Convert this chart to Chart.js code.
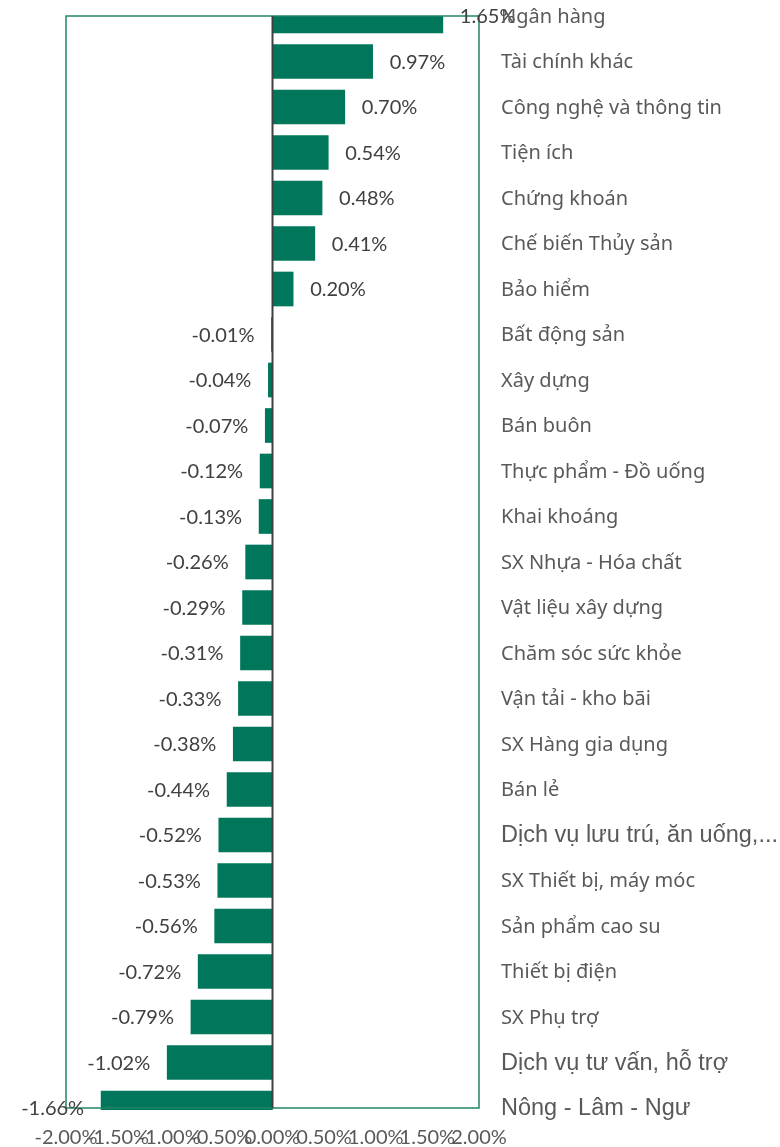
<!DOCTYPE html>
<html lang="vi">
  <head>
    <meta charset="utf-8" />
    <title>Biến động theo ngành</title>
    <style>
      * {
        margin: 0;
        padding: 0;
      }
      body {
        background: #ffffff;
      }
    </style>
  </head>
  <body>
    <canvas id="myChart" width="780" height="1147"></canvas>

    <script src="https://cdn.jsdelivr.net/npm/chart.js"></script>

    <script>
      // categories (top to bottom)
      const sectors = [
        "Ngân hàng",
        "Tài chính khác",
        "Công nghệ và thông tin",
        "Tiện ích",
        "Chứng khoán",
        "Chế biến Thủy sản",
        "Bảo hiểm",
        "Bất động sản",
        "Xây dựng",
        "Bán buôn",
        "Thực phẩm - Đồ uống",
        "Khai khoáng",
        "SX Nhựa - Hóa chất",
        "Vật liệu xây dựng",
        "Chăm sóc sức khỏe",
        "Vận tải - kho bãi",
        "SX Hàng gia dụng",
        "Bán lẻ",
        "Dịch vụ lưu trú, ăn uống,...",
        "SX Thiết bị, máy móc",
        "Sản phẩm cao su",
        "Thiết bị điện",
        "SX Phụ trợ",
        "Dịch vụ tư vấn, hỗ trợ",
        "Nông - Lâm - Ngư",
      ];

      // % change per sector
      const changes = [
        1.65, 0.97, 0.7, 0.54, 0.48, 0.41, 0.2, -0.01, -0.04, -0.07, -0.12,
        -0.13, -0.26, -0.29, -0.31, -0.33, -0.38, -0.44, -0.52, -0.53, -0.56,
        -0.72, -0.79, -1.02, -1.66,
      ];

      // these labels are shown in a different (Arial-like) font in the original
      const arialLabels = [
        "Dịch vụ lưu trú, ăn uống,...",
        "Dịch vụ tư vấn, hỗ trợ",
        "Nông - Lâm - Ngư",
      ];

      const xMin = -2;
      const xMax = 2;
      const xStep = 0.5;

      const barColor = "#00775A";

      // draws frame, zero line, value labels, sector names and x tick labels
      const decorations = {
        id: "decorations",
        afterDatasetsDraw(chart) {
          const { ctx, chartArea } = chart;
          const x = chart.scales.x;
          const y = chart.scales.y;
          ctx.save();

          // frame
          ctx.strokeStyle = "#1E8666";
          ctx.lineWidth = 1.5;
          ctx.strokeRect(
            chartArea.left,
            chartArea.top,
            chartArea.right - chartArea.left,
            chartArea.bottom - chartArea.top
          );

          // zero line
          const x0 = x.getPixelForValue(0);
          ctx.strokeStyle = "#404040";
          ctx.lineWidth = 2;
          ctx.beginPath();
          ctx.moveTo(x0, chartArea.top);
          ctx.lineTo(x0, chartArea.bottom);
          ctx.stroke();

          // value labels
          ctx.font = "20px Lato, 'Open Sans', sans-serif";
          ctx.fillStyle = "#404040";
          ctx.textBaseline = "middle";
          changes.forEach((v, i) => {
            const py = y.getPixelForValue(i) + 1;
            const px = x.getPixelForValue(v);
            const txt = v.toFixed(2) + "%";
            if (v >= 0) {
              ctx.textAlign = "left";
              ctx.fillText(txt, px + 17, py);
            } else {
              ctx.textAlign = "right";
              ctx.fillText(txt, px - 17, py);
            }
          });

          // sector names on the right
          ctx.fillStyle = "#595959";
          ctx.textAlign = "left";
          sectors.forEach((s, i) => {
            const py = y.getPixelForValue(i) + 1;
            if (arialLabels.includes(s)) {
              ctx.font = "23.5px 'Liberation Sans', Arial, sans-serif";
            } else {
              ctx.font = "20px 'Noto Sans', sans-serif";
            }
            ctx.fillText(s, chartArea.right + 22, py);
          });

          // x tick labels
          ctx.font = "20px Lato, 'Open Sans', sans-serif";
          ctx.fillStyle = "#595959";
          ctx.textAlign = "center";
          x.ticks.forEach((t) => {
            const px = x.getPixelForValue(t.value);
            ctx.fillText(t.value.toFixed(2) + "%", px, chartArea.bottom + 30);
          });

          ctx.restore();
        },
      };

      const data = {
        labels: sectors,
        datasets: [
          {
            label: "Thay đổi",
            data: changes,
            backgroundColor: barColor,
            borderWidth: 0,
            barThickness: 34,
            clip: { left: 5, right: 5, top: 0, bottom: 2 },
          },
        ],
      };

      const config = {
        type: "bar",
        data: data,
        plugins: [decorations],
        options: {
          indexAxis: "y",
          responsive: false,
          animation: false,
          layout: {
            padding: { left: 66, right: 301, top: 16, bottom: 39 },
          },
          plugins: {
            legend: { display: false },
            tooltip: { enabled: false },
          },
          scales: {
            x: {
              display: false,
              min: xMin,
              max: xMax,
              ticks: { stepSize: xStep },
            },
            y: {
              type: "category",
              display: false,
              offset: false,
            },
          },
        },
      };

      const myChart = new Chart(document.getElementById("myChart"), config);
    </script>
  </body>
</html>
